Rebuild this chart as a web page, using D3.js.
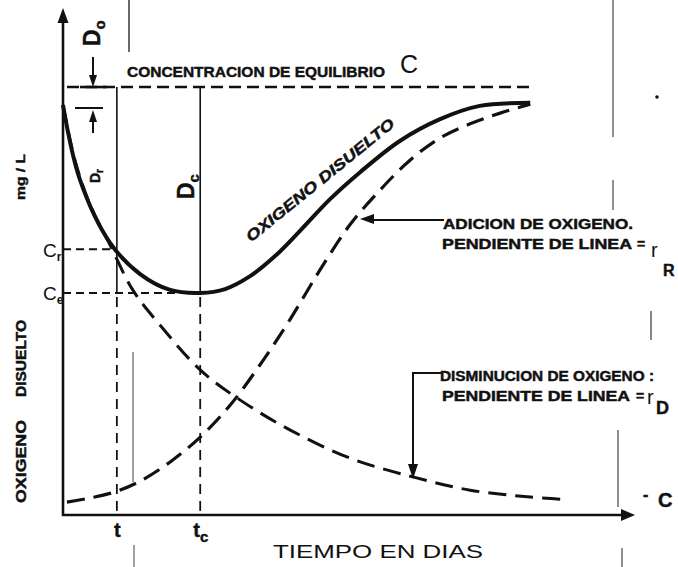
<!DOCTYPE html>
<html>
<head>
<meta charset="utf-8">
<script src="https://cdn.jsdelivr.net/npm/d3@7"></script>
<style>
  html, body { margin: 0; padding: 0; background: #fff; }
  svg { display: block; }
  text { font-family: "Liberation Sans", Arial, sans-serif; fill: #111; }
  text.heavy { stroke: #111; stroke-width: 0.45px; }
</style>
</head>
<body>
<script>
// Equilibrium and critical levels (mg/L) and their times (days)
const C_EQ = 10;
const C_R = 6.21;
const C_E = 5.19;
const T_R = 0.95;
const T_C = 2.42;

// Axis tick labels (main letter + subscript)
const xTickMain = ["t", "t"];
const xTickSub = ["", "c"];
const yTickMain = ["C", "C"];
const yTickSub = ["r", "e"];

// Dissolved oxygen (solid curve)
const oxygenDays   = [0, 0.30, 0.83, 1.36, 1.89, 2.42, 2.86, 3.30, 3.74, 4.18, 4.71, 5.24, 5.94, 6.65, 7.35, 8.24];
const oxygenValues = [9.58, 7.83, 6.36, 5.63, 5.26, 5.19, 5.28, 5.58, 6.05, 6.64, 7.38, 8.01, 8.74, 9.25, 9.56, 9.63];

// Oxygen depletion (descending dashed curve)
const depletionDays   = [0, 0.21, 0.48, 0.83, 1.23, 1.71, 2.42, 3.12, 4.00, 5.06, 6.17, 7.18, 8.24, 8.77];
const depletionValues = [9.58, 8.29, 7.24, 6.31, 5.26, 4.44, 3.39, 2.69, 1.99, 1.33, 0.89, 0.58, 0.42, 0.37];

// Oxygen addition (rising dashed curve)
const reaerationDays   = [0.07, 0.48, 0.92, 1.36, 1.89, 2.42, 2.95, 3.47, 4.00, 4.53, 5.06, 5.59, 6.12, 6.65, 7.18, 7.71, 8.24];
const reaerationValues = [0.30, 0.40, 0.54, 0.79, 1.24, 1.82, 2.57, 3.50, 4.56, 5.72, 6.78, 7.59, 8.29, 8.81, 9.14, 9.39, 9.60];

const W = 678, H = 567;
const x = d3.scaleLinear().domain([0, 10]).range([63, 630]);
const y = d3.scaleLinear().domain([0, 11.8]).range([515, 10]);

const svg = d3.select("body").append("svg").attr("width", W).attr("height", H);
const ink = "#111";

const zip = (xs, ys) => xs.map((d, i) => [d, ys[i]]);
const line = d3.line().x(d => x(d[0])).y(d => y(d[1])).curve(d3.curveCatmullRom.alpha(0.5));

// ---- axes ----
const xAxis = d3.axisBottom(x).tickValues([T_R, T_C]).tickSize(0).tickFormat(() => "");
const gx = svg.append("g").attr("transform", `translate(0,${y(0)})`).call(xAxis);
gx.select(".domain").attr("stroke", ink).attr("stroke-width", 2.6).attr("d", `M${x(0) - 1},0H${x(10) - 4}`);
gx.selectAll(".tick text").remove();
gx.selectAll(".tick").append("text")
  .attr("y", 22).attr("text-anchor", "middle").attr("class", "heavy")
  .style("font-size", "20px").style("font-weight", "bold")
  .each(function (d, i) {
    const t = d3.select(this);
    t.append("tspan").text(xTickMain[i]);
    if (xTickSub[i]) t.append("tspan").attr("dy", 5).style("font-size", "15px").text(xTickSub[i]);
  });
svg.append("path").attr("fill", ink)
  .attr("d", `M${x(10) + 5},${y(0)} L${x(10) - 9},${y(0) - 6} L${x(10) - 9},${y(0) + 6} Z`);

const yAxis = d3.axisLeft(y).tickValues([C_R, C_E]).tickSize(0).tickFormat(() => "");
const gy = svg.append("g").attr("transform", `translate(${x(0)},0)`).call(yAxis);
gy.select(".domain").attr("stroke", ink).attr("stroke-width", 2.6).attr("d", `M0,${y(0) + 1}V18`);
gy.selectAll(".tick text").remove();
gy.selectAll(".tick").append("text")
  .attr("x", -20).attr("dy", "0.36em").attr("text-anchor", "start")
  .style("font-size", "19px")
  .each(function (d, i) {
    const t = d3.select(this);
    t.append("tspan").text(yTickMain[i]);
    t.append("tspan").attr("dy", 4).style("font-size", "12px").style("font-weight", "bold").text(yTickSub[i]);
  });
svg.append("path").attr("fill", ink)
  .attr("d", `M${x(0)},8 L${x(0) - 5.5},23 L${x(0) + 5.5},23 Z`);

// ---- equilibrium line ----
svg.append("line")
  .attr("x1", x(0) + 4).attr("x2", x(8.3)).attr("y1", y(C_EQ)).attr("y2", y(C_EQ))
  .attr("stroke", ink).attr("stroke-width", 2.6).attr("stroke-dasharray", "12,6");

// ---- guide lines at t and tc ----
[[T_R, C_R], [T_C, C_E]].forEach(([t, c]) => {
  svg.append("line")
    .attr("x1", x(0)).attr("x2", x(t)).attr("y1", y(c)).attr("y2", y(c))
    .attr("stroke", ink).attr("stroke-width", 2).attr("stroke-dasharray", "8,5");
  svg.append("line")
    .attr("x1", x(t)).attr("x2", x(t)).attr("y1", y(C_EQ)).attr("y2", y(C_E))
    .attr("stroke", ink).attr("stroke-width", 1.6);
  svg.append("line")
    .attr("x1", x(t)).attr("x2", x(t)).attr("y1", y(C_E) + 4).attr("y2", y(0))
    .attr("stroke", ink).attr("stroke-width", 1.8).attr("stroke-dasharray", "10,7");
});

// ---- curves ----
svg.append("path").datum(zip(depletionDays, depletionValues))
  .attr("d", line).attr("fill", "none").attr("stroke", ink)
  .attr("stroke-width", 3).attr("stroke-dasharray", "18,9");
svg.append("path").datum(zip(reaerationDays, reaerationValues))
  .attr("d", line).attr("fill", "none").attr("stroke", ink)
  .attr("stroke-width", 3.2).attr("stroke-dasharray", "18,9");
svg.append("path").datum(zip(oxygenDays, oxygenValues))
  .attr("d", line).attr("fill", "none").attr("stroke", ink)
  .attr("stroke-width", 4).attr("stroke-linejoin", "round");

// ---- labels ----
svg.append("text").attr("x", 127).attr("y", 77).attr("textLength", 258)
  .attr("lengthAdjust", "spacingAndGlyphs").attr("class", "heavy")
  .style("font-size", "15px").style("font-weight", "bold")
  .text("CONCENTRACION DE EQUILIBRIO");
svg.append("text").attr("x", 400).attr("y", 73)
  .style("font-size", "25px").text("C");

// along the dissolved oxygen curve
svg.append("text")
  .attr("transform", "translate(320,180) rotate(-39)")
  .attr("text-anchor", "middle").attr("dy", "0.35em").attr("class", "heavy")
  .attr("textLength", 186).attr("lengthAdjust", "spacingAndGlyphs")
  .style("font-size", "15px").style("font-weight", "bold").style("font-style", "italic")
  .text("OXIGENO  DISUELTO");

// y-axis title
function vtext(xp, yp, str, len, size, weight) {
  svg.append("text").attr("transform", `translate(${xp},${yp}) rotate(-90)`)
    .attr("textLength", len).attr("lengthAdjust", "spacingAndGlyphs").attr("class", "heavy")
    .style("font-size", size + "px").style("font-weight", weight).text(str);
}
vtext(26, 503, "OXIGENO", 83, 14, "bold");
vtext(26, 397, "DISUELTO", 77, 14, "bold");
vtext(25, 200, "mg / L", 46, 13, "bold");

// x-axis title
svg.append("text").attr("x", 273).attr("y", 558)
  .attr("textLength", 210).attr("lengthAdjust", "spacingAndGlyphs")
  .style("font-size", "18px").text("TIEMPO  EN  DIAS");

// deficit labels D0, Dr, Dc (rotated)
function deficit(xp, yp, main, sub, size, subSize) {
  const t = svg.append("text").attr("transform", `translate(${xp},${yp}) rotate(-90)`)
    .attr("class", "heavy")
    .style("font-size", size + "px").style("font-weight", "bold");
  t.append("tspan").text(main);
  t.append("tspan").attr("dy", size * 0.2).style("font-size", subSize + "px").text(sub);
}
deficit(100, 46, "D", "o", 23, 15);
deficit(100, 183, "D", "r", 14, 10);
deficit(194, 199, "D", "c", 23, 15);

// D0 dimension arrows
const arrowHead = (xp, yp, dir) => {
  const s = dir; // 1 = pointing down, -1 = pointing up
  svg.append("path").attr("fill", ink)
    .attr("d", `M${xp},${yp} L${xp - 4},${yp - s * 12} L${xp + 4},${yp - s * 12} Z`);
};
svg.append("line").attr("x1", 93).attr("x2", 93).attr("y1", 57).attr("y2", 80)
  .attr("stroke", ink).attr("stroke-width", 2);
arrowHead(93, 87, 1);
svg.append("line").attr("x1", 80).attr("x2", 107).attr("y1", y(C_EQ)).attr("y2", y(C_EQ))
  .attr("stroke", ink).attr("stroke-width", 2.6);
svg.append("line").attr("x1", 75).attr("x2", 103).attr("y1", 108).attr("y2", 108)
  .attr("stroke", ink).attr("stroke-width", 2);
svg.append("line").attr("x1", 93).attr("x2", 93).attr("y1", 117).attr("y2", 133)
  .attr("stroke", ink).attr("stroke-width", 2);
arrowHead(93, 110, -1);

// oxygen addition annotation
svg.append("line").attr("x1", 370).attr("x2", 444).attr("y1", 220).attr("y2", 220)
  .attr("stroke", ink).attr("stroke-width", 2);
svg.append("path").attr("fill", ink).attr("d", "M360,219 L374,214 L374,224 Z");
svg.append("text").attr("x", 443).attr("y", 229).attr("textLength", 190)
  .attr("lengthAdjust", "spacingAndGlyphs").attr("class", "heavy")
  .style("font-size", "14px").style("font-weight", "bold").text("ADICION DE OXIGENO.");
svg.append("text").attr("x", 442).attr("y", 249).attr("textLength", 190)
  .attr("lengthAdjust", "spacingAndGlyphs").attr("class", "heavy")
  .style("font-size", "14px").style("font-weight", "bold").text("PENDIENTE DE LINEA");
svg.append("text").attr("x", 637).attr("y", 249).attr("class", "heavy")
  .style("font-size", "14px").style("font-weight", "bold").text("=");
svg.append("text").attr("x", 651).attr("y", 257).style("font-size", "20px").text("r");
svg.append("text").attr("x", 663).attr("y", 276).attr("class", "heavy")
  .style("font-size", "16px").style("font-weight", "bold").text("R");

// oxygen depletion annotation
svg.append("path").attr("fill", "none").attr("stroke", ink).attr("stroke-width", 2)
  .attr("d", "M441,373 H413 V466");
svg.append("path").attr("fill", ink).attr("d", "M413,479 L408,464 L418,464 Z");
svg.append("text").attr("x", 440).attr("y", 381).attr("textLength", 214)
  .attr("lengthAdjust", "spacingAndGlyphs").attr("class", "heavy")
  .style("font-size", "14px").style("font-weight", "bold").text("DISMINUCION DE OXIGENO :");
svg.append("text").attr("x", 442).attr("y", 401).attr("textLength", 188)
  .attr("lengthAdjust", "spacingAndGlyphs").attr("class", "heavy")
  .style("font-size", "14px").style("font-weight", "bold").text("PENDIENTE DE  LINEA");
svg.append("text").attr("x", 636).attr("y", 401).attr("class", "heavy")
  .style("font-size", "14px").style("font-weight", "bold").text("=");
svg.append("text").attr("x", 647).attr("y", 404).style("font-size", "20px").text("r");
svg.append("text").attr("x", 656).attr("y", 414).attr("class", "heavy")
  .style("font-size", "18px").style("font-weight", "bold").text("D");

// stray margin rules on the sheet
const rules = [[129, 0, 52, 1.6], [133, 352, 482, 1], [134, 545, 567, 1], [613, 0, 137, 1.2],
               [613, 180, 210, 1.2], [618, 430, 507, 1.2], [622, 548, 567, 1.2], [651, 311, 340, 1.3]];
rules.forEach(([xp, y1, y2, w]) => svg.append("line")
  .attr("x1", xp).attr("x2", xp).attr("y1", y1).attr("y2", y2)
  .attr("stroke", "#444").attr("stroke-width", w));
svg.append("circle").attr("cx", 657).attr("cy", 97).attr("r", 1.8).attr("fill", ink);
svg.append("text").attr("x", 643).attr("y", 500).attr("class", "heavy")
  .style("font-size", "16px").style("font-weight", "bold").text("-");
svg.append("text").attr("x", 658).attr("y", 507).attr("class", "heavy")
  .style("font-size", "20px").style("font-weight", "bold").text("C");
</script>
</body>
</html>
